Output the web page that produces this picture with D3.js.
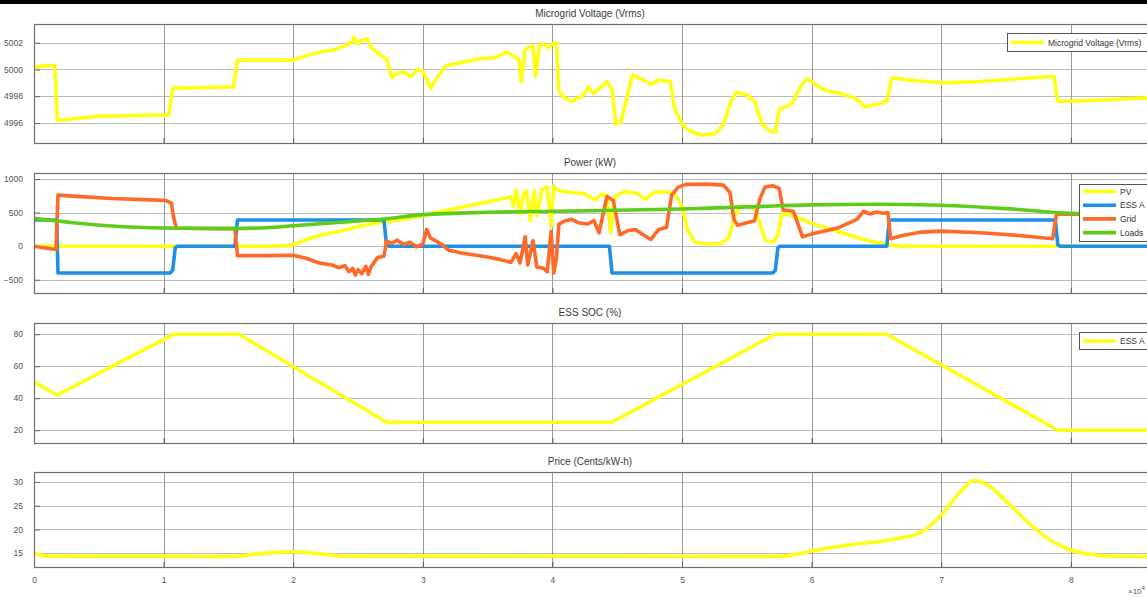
<!DOCTYPE html>
<html>
<head>
<meta charset="utf-8">
<script src="https://cdn.jsdelivr.net/npm/d3@7"></script>
<style>
  html, body { margin: 0; padding: 0; background: #fff; }
  svg { display: block; font-family: "Liberation Sans", Arial, sans-serif; }
</style>
</head>
<body>
<svg id="chart" width="1147" height="597"></svg>
<script>
// time axis is in units of 1e4 seconds (one day = 8.64)
const timeTicks = [0, 1, 2, 3, 4, 5, 6, 7, 8];
const timeDomain = [0, 8.64];

const panelTitles = ["Microgrid Voltage (Vrms)", "Power  (kW)", "ESS SOC (%)", "Price (Cents/kW-h)"];

// Microgrid RMS voltage [t, Vrms]
const voltage = [
  [0,5000.1],[0.05,5000.25],[0.16,5000.3],[0.18,4996.2],[0.5,4996.5],[1.04,4996.6],[1.07,4998.6],
  [1.54,4998.7],[1.57,5000.7],[2.0,5000.7],[2.09,5001.0],[2.21,5001.3],[2.32,5001.5],[2.41,5001.8],
  [2.45,5002.0],[2.47,5002.4],[2.5,5001.9],[2.53,5002.2],[2.57,5002.3],[2.6,5001.7],[2.68,5001.0],
  [2.72,5000.8],[2.76,4999.4],[2.8,4999.7],[2.85,4999.8],[2.91,4999.5],[2.96,5000.0],[3.0,4999.9],
  [3.06,4998.6],[3.12,4999.5],[3.18,5000.3],[3.29,5000.5],[3.44,5000.8],[3.56,5000.9],[3.65,5001.3],
  [3.7,5001.0],[3.74,5000.8],[3.76,4999.1],[3.79,5001.5],[3.85,5001.8],[3.87,4999.5],[3.9,5001.8],
  [3.94,5001.9],[3.97,5001.6],[4.0,5001.9],[4.03,5002.0],[4.05,4998.4],[4.09,4997.9],[4.15,4997.6],
  [4.24,4998.1],[4.28,4998.7],[4.32,4998.2],[4.42,4999.1],[4.46,4998.5],[4.49,4995.9],[4.53,4996.1],
  [4.59,4998.5],[4.62,4999.6],[4.7,4999.2],[4.76,4998.9],[4.82,4999.2],[4.91,4999.1],[4.94,4997.2],
  [5.0,4995.9],[5.06,4995.4],[5.15,4995.1],[5.26,4995.2],[5.32,4995.9],[5.38,4997.7],[5.42,4998.3],
  [5.5,4998.1],[5.56,4997.6],[5.62,4995.9],[5.68,4995.4],[5.72,4995.3],[5.75,4997.0],[5.79,4997.2],
  [5.85,4997.4],[5.89,4998.3],[5.96,4999.3],[6.0,4999.1],[6.09,4998.5],[6.26,4998.1],[6.35,4997.8],
  [6.41,4997.2],[6.5,4997.4],[6.58,4997.6],[6.62,4999.4],[6.75,4999.2],[7.0,4999.0],[7.3,4999.1],
  [7.6,4999.3],[7.87,4999.5],[7.9,4997.6],[8.2,4997.7],[8.64,4997.9]
];

// Power flows in kW [t, P]
const pvPower = [
  [0,0],[1.9,0],[2.0,20],[2.1,100],[2.2,160],[2.35,220],[2.5,290],[2.6,330],[2.7,360],[2.85,400],
  [3.0,455],[3.1,500],[3.2,540],[3.3,580],[3.4,620],[3.5,660],[3.6,700],[3.68,740],[3.7,600],
  [3.72,840],[3.75,480],[3.78,800],[3.8,820],[3.83,380],[3.86,830],[3.88,460],[3.92,850],[3.96,880],
  [3.99,300],[4.01,900],[4.03,850],[4.06,820],[4.15,800],[4.25,780],[4.33,690],[4.38,770],[4.42,760],
  [4.45,200],[4.48,740],[4.55,810],[4.65,790],[4.72,700],[4.78,800],[4.88,810],[4.95,760],[5.0,600],
  [5.04,250],[5.1,60],[5.2,30],[5.3,40],[5.36,120],[5.4,400],[5.44,580],[5.5,600],[5.56,560],
  [5.6,350],[5.64,100],[5.7,60],[5.74,150],[5.77,480],[5.85,460],[5.9,420],[6.0,340],[6.1,280],
  [6.2,220],[6.3,160],[6.4,100],[6.5,60],[6.6,20],[6.7,0],[8.64,0]
];
const essPower = [
  [0,390],[0.175,390],[0.185,-400],[1.05,-400],[1.07,-360],[1.09,-20],[1.11,0],[1.55,0],[1.57,390],
  [2.7,390],[2.72,20],[2.74,0],[4.44,0],[4.46,-400],[5.7,-400],[5.72,-360],[5.74,-20],[5.76,0],
  [6.58,0],[6.6,390],[7.88,390],[7.9,20],[7.92,0],[8.64,0]
];
const gridPower = [
  [0,0],[0.1,-30],[0.17,-50],[0.185,760],[0.3,745],[0.6,710],[0.9,690],[1.02,680],[1.06,640],
  [1.08,400],[1.1,268],[1.3,264],[1.55,262],[1.57,-140],[1.8,-140],[2.0,-135],[2.1,-180],[2.2,-250],[2.3,-280],
  [2.35,-320],[2.4,-290],[2.43,-380],[2.46,-330],[2.48,-430],[2.5,-350],[2.53,-410],[2.56,-300],
  [2.58,-420],[2.6,-310],[2.65,-170],[2.7,-150],[2.72,80],[2.76,40],[2.8,90],[2.85,30],[2.9,60],
  [2.95,-10],[3.0,30],[3.03,250],[3.06,120],[3.1,80],[3.15,20],[3.2,-60],[3.3,-100],[3.4,-130],
  [3.5,-160],[3.6,-200],[3.68,-240],[3.72,-110],[3.75,-250],[3.79,140],[3.81,-280],[3.85,80],
  [3.88,-310],[3.93,-330],[3.96,-380],[3.99,220],[4.01,-400],[4.03,-200],[4.05,330],[4.1,380],
  [4.15,400],[4.2,350],[4.27,330],[4.32,380],[4.36,200],[4.42,740],[4.47,680],[4.52,170],[4.58,230],
  [4.64,250],[4.7,170],[4.76,100],[4.82,250],[4.88,280],[4.92,760],[4.97,880],[5.03,920],[5.2,925],
  [5.32,910],[5.37,800],[5.4,400],[5.43,310],[5.5,350],[5.56,380],[5.6,700],[5.64,880],[5.7,900],
  [5.75,860],[5.78,540],[5.86,520],[5.93,140],[6.0,180],[6.2,270],[6.35,400],[6.4,520],[6.45,480],
  [6.5,510],[6.55,490],[6.59,500],[6.61,110],[6.7,160],[6.85,210],[7.0,225],[7.3,200],[7.6,160],
  [7.86,110],[7.89,480],[8.2,470],[8.64,460]
];
const loadPower = [
  [0,415],[0.3,350],[0.6,300],[1.0,270],[1.5,262],[1.8,275],[2.0,305],[2.4,360],[2.7,405],[3.0,470],
  [3.5,505],[4.0,520],[4.5,535],[5.0,555],[5.5,585],[6.0,615],[6.5,625],[7.0,610],[7.5,560],
  [8.0,490],[8.64,460]
];

// Battery state of charge [t, %]
const essSoc = [
  [0,50],[0.18,42],[1.08,80],[1.58,80],[2.72,25],[4.46,25],[5.72,80],[6.58,80],[7.9,20],[8.64,20]
];

// Energy price [t, cents/kWh]
const price = [
  [0,15],[0.1,14.4],[1.5,14.3],[1.75,14.9],[2.0,15.3],[2.2,14.9],[2.4,14.4],[5.7,14.3],[5.85,14.6],
  [6.0,15.5],[6.3,16.8],[6.6,17.8],[6.85,19.5],[7.0,23],[7.15,28],[7.25,30.3],[7.35,29.5],[7.5,26],
  [7.65,22],[7.8,18.5],[7.95,16.2],[8.1,15.0],[8.3,14.4],[8.64,14.3]
];

const voltTicks = [4996, 4998, 5000, 5002];
const powerTicks = [-500, 0, 500, 1000];
const socTicks = [20, 40, 60, 80];
const priceTicks = [15, 20, 25, 30];

const powerLegend = ["PV", "ESS A", "Grid", "Loads"];

const YELLOW = "#ffff14", BLUE = "#1e90e6", ORANGE = "#ff6a2b", GREEN = "#5fcc1a";

const svg = d3.select("#chart");
const left = 34, right = 34 + 8.64 * 129.6;
const x = d3.scaleLinear().domain(timeDomain).range([left, right]);

// strip across the top edge
svg.append("rect").attr("x", 0).attr("y", 0).attr("width", 1147).attr("height", 4).attr("fill", "#000");

const panels = [
  { title: panelTitles[0], top: 24, bottom: 143, domain: [4994.5, 5003.4], ticks: voltTicks,
    series: [{ data: voltage, color: YELLOW, curve: d3.curveLinear }],
    legend: { x: 1007, y: 33, h: 18, items: [{ label: "Microgrid Voltage (Vrms)", color: YELLOW }] } },
  { title: panelTitles[1], top: 173, bottom: 293, domain: [-697, 1090], ticks: powerTicks,
    series: [
      { data: pvPower, color: YELLOW, curve: d3.curveLinear },
      { data: essPower, color: BLUE, curve: d3.curveLinear },
      { data: gridPower, color: ORANGE, curve: d3.curveLinear },
      { data: loadPower, color: GREEN, curve: d3.curveMonotoneX }
    ],
    legend: { x: 1079, y: 184, h: 57, items: powerLegend.map((l, i) => ({ label: l, color: [YELLOW, BLUE, ORANGE, GREEN][i] })) } },
  { title: panelTitles[2], top: 323, bottom: 443, domain: [12, 87], ticks: socTicks,
    series: [{ data: essSoc, color: YELLOW, curve: d3.curveLinear }],
    legend: { x: 1079, y: 332, h: 17, items: [{ label: "ESS A", color: YELLOW }] } },
  { title: panelTitles[3], top: 472, bottom: 567, domain: [12.1, 32.1], ticks: priceTicks,
    series: [{ data: price, color: YELLOW, curve: d3.curveMonotoneX }],
    legend: null }
];

panels.forEach((p, idx) => {
  const y = d3.scaleLinear().domain(p.domain).range([p.bottom, p.top]);
  const g = svg.append("g");

  // title
  g.append("text")
    .attr("x", 590).attr("y", p.top - 7)
    .attr("text-anchor", "middle")
    .attr("font-size", 10).attr("fill", "#3a3a3a")
    .text(p.title);

  // horizontal grid
  g.selectAll(".hg").data(p.ticks).enter().append("line")
    .attr("x1", left).attr("x2", right)
    .attr("y1", d => Math.round(y(d)) + 0.5).attr("y2", d => Math.round(y(d)) + 0.5)
    .attr("stroke", "#bcbcbc").attr("stroke-width", 1);

  // vertical grid
  g.selectAll(".vg").data(timeTicks).enter().append("line")
    .attr("x1", d => Math.round(x(d)) + 0.5).attr("x2", d => Math.round(x(d)) + 0.5)
    .attr("y1", p.top).attr("y2", p.bottom)
    .attr("stroke", "#9a9a9a").attr("stroke-width", 1);

  // y axis with inward ticks
  const yAxis = g.append("g")
    .attr("transform", `translate(${left},0)`)
    .call(d3.axisLeft(y).tickValues(p.ticks).tickSize(-6).tickPadding(11).tickFormat(d3.format("d")));
  yAxis.select(".domain").remove();
  yAxis.selectAll(".tick line").attr("stroke", "#666");
  yAxis.selectAll("text").attr("font-size", 8.5).attr("fill", "#555").attr("font-family", "Liberation Sans, Arial, sans-serif");

  // x axis ticks (labels only on the bottom panel)
  const xAxis = g.append("g")
    .attr("transform", `translate(0,${p.bottom})`)
    .call(d3.axisBottom(x).tickValues(timeTicks).tickSize(-5).tickPadding(10)
      .tickFormat(idx === panels.length - 1 ? d3.format("d") : () => ""));
  xAxis.select(".domain").remove();
  xAxis.selectAll(".tick line").attr("stroke", "#555");
  xAxis.selectAll("text").attr("font-size", 8.5).attr("fill", "#555").attr("font-family", "Liberation Sans, Arial, sans-serif");

  // clip
  const clipId = "clip" + idx;
  svg.append("clipPath").attr("id", clipId).append("rect")
    .attr("x", left).attr("y", p.top).attr("width", right - left).attr("height", p.bottom - p.top);

  const lg = g.append("g").attr("clip-path", `url(#${clipId})`);
  p.series.forEach(s => {
    const line = d3.line().x(d => x(d[0])).y(d => y(d[1])).curve(s.curve);
    lg.append("path").datum(s.data)
      .attr("d", line)
      .attr("fill", "none")
      .attr("stroke", s.color)
      .attr("stroke-width", 3.6)
      .attr("stroke-linejoin", "round")
      .attr("stroke-linecap", "round");
  });

  // axes box
  g.append("rect")
    .attr("x", left + 0.5).attr("y", p.top + 0.5)
    .attr("width", right - left).attr("height", p.bottom - p.top)
    .attr("fill", "none").attr("stroke", "#6e6e6e").attr("stroke-width", 1.2);

  // legend
  if (p.legend) {
    const L = p.legend;
    const lgd = g.append("g");
    lgd.append("rect")
      .attr("x", L.x + 0.5).attr("y", L.y + 0.5).attr("width", 200).attr("height", L.h)
      .attr("fill", "#fff").attr("stroke", "#555").attr("stroke-width", 1);
    const step = L.items.length > 1 ? 13.7 : 0;
    L.items.forEach((it, i) => {
      const cy = L.y + (L.items.length > 1 ? 7.5 + i * step : L.h / 2 + 0.5);
      lgd.append("line")
        .attr("x1", L.x + 4).attr("x2", L.x + 37)
        .attr("y1", cy).attr("y2", cy)
        .attr("stroke", it.color).attr("stroke-width", 3.6);
      lgd.append("text")
        .attr("x", L.x + 41).attr("y", cy + 3)
        .attr("font-size", 8.5).attr("fill", "#333")
        .text(it.label);
    });
  }
});

// exponent label for the time axis
const expo = svg.append("text")
  .attr("x", 1128).attr("y", 594)
  .attr("font-size", 8).attr("fill", "#555");
expo.append("tspan").text("\u00d710");
expo.append("tspan").attr("dy", -4).attr("font-size", 6).text("4");
</script>
</body>
</html>
